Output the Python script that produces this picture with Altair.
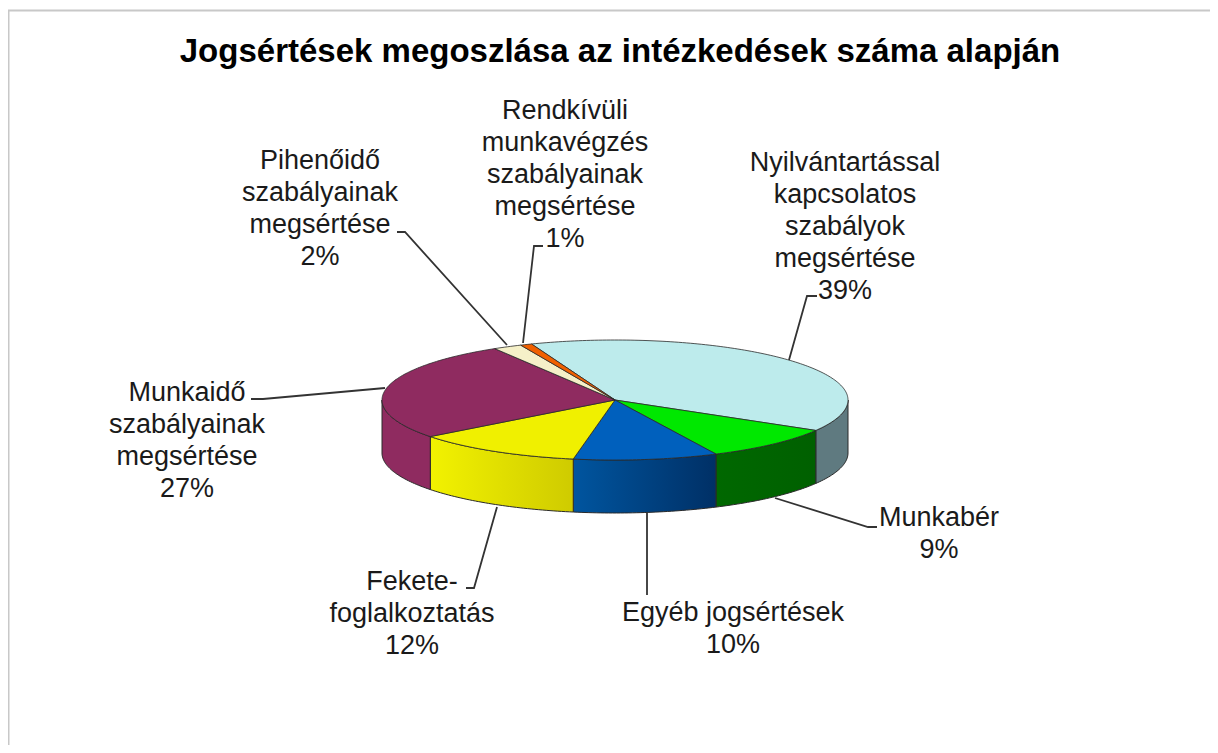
import math
import altair as alt
import pandas as pd

TITLE = "Jogsértések megoszlása az intézkedések száma alapján"
names = ["Nyilvántartással\nkapcsolatos\nszabályok\nmegsértése", "Munkabér", "Egyéb jogsértések",
         "Fekete-\nfoglalkoztatás", "Munkaidő\nszabályainak\nmegsértése", "Pihenőidő\nszabályainak\nmegsértése",
         "Rendkívüli\nmunkavégzés\nszabályainak\nmegsértése"]
shares = [39.3, 9.4, 10.0, 11.7, 26.8, 2.0, 0.8]
top_colors = ["#bdebec", "#00e800", "#0060bd", "#f0f000", "#8f2b60", "#f5f0c8", "#f06000"]
side_colors = [("#5f7a80", "#5f7a80"), ("#006800", "#006000"), ("#00559f", "#003066"),
               ("#f2f200", "#cfcb00"), ("#8f2b60", "#8f2b60"), None, None]

# layout of the drawing, in page pixels (the 8px page margin is taken off below)
CX, CY, RX, RY, DEPTH, START = 615, 400, 233, 60, 53, -21
W, H = 1202, 737
FONT = "Liberation Sans"
SIZE = 27
label_centres = [(845, 162), (939, 517), (733, 612), (412, 581), (187, 392), (320, 160), (565, 110)]
leaders = [[(817, 296), (807, 296), (789, 360)],
           [(877, 527), (868, 527), (775, 498)],
           [(647, 513), (647, 595)],
           [(497, 507), (474, 588), (466, 588)],
           [(385, 388), (263, 399), (251, 399)],
           [(507, 345), (405, 232), (397, 232)],
           [(523, 343), (534, 246), (543, 246)]]

xs = alt.Scale(domain=[0, W], range=[0, W])
ys = alt.Scale(domain=[0, H], range=[0, H])
X = alt.X("x:Q", scale=xs, axis=None)
Y = alt.Y("y:Q", scale=ys, axis=None)


def ell(deg, dy=0):
    a = math.radians(deg)
    return CX + RX * math.sin(a) - 8, CY - RY * math.cos(a) + dy - 8


def arc(a0, a1, dy=0):
    n = max(2, int(abs(a1 - a0)) + 2)
    return [ell(a0 + (a1 - a0) * k / (n - 1), dy) for k in range(n)]


def poly(points, **mark):
    df = pd.DataFrame(points, columns=["x", "y"])
    df["i"] = range(len(df))
    return alt.Chart(df).mark_line(**mark).encode(x=X, y=Y, order="i:Q")


layers = []
# frame
layers.append(poly([(0.5, H), (0.5, 2.5), (W, 2.5)], stroke="#c8c8c8", strokeWidth=2))

angles = [START]
for s in shares:
    angles.append(angles[-1] + s * 3.6)

# side wall
for k, sc in enumerate(side_colors):
    if sc is None:
        continue
    a0, a1 = max(angles[k], 90), min(angles[k + 1], 270)
    if a1 <= a0:
        continue
    pts = arc(a0, a1) + arc(a1, a0, DEPTH)
    pts.append(pts[0])
    fill = alt.Gradient(gradient="linear", x1=0, x2=1, y1=0, y2=0,
                        stops=[alt.GradientStop(color=sc[0], offset=0), alt.GradientStop(color=sc[1], offset=1)])
    layers.append(poly(pts, fill=fill, stroke="#2a2a2a", strokeWidth=1))

# top faces
for k, c in enumerate(top_colors):
    pts = [(CX - 8, CY - 8)] + arc(angles[k], angles[k + 1]) + [(CX - 8, CY - 8)]
    layers.append(poly(pts, fill=c, stroke="#2a2a2a", strokeWidth=0.8))

# leaders
for pts in leaders:
    layers.append(poly([(a - 8, b - 8) for a, b in pts], stroke="#333333", strokeWidth=1.8))

# texts
for n, s, (px, py) in zip(names, shares, label_centres):
    df = pd.DataFrame({"x": [px - 8], "y": [py - 8 - 0.43 * SIZE], "t": [f"{n}\n{round(s)}%"]})
    layers.append(alt.Chart(df).mark_text(font=FONT, fontSize=SIZE, lineHeight=31.8, align="center", baseline="top",
                                          lineBreak="\n", color="#1a1a1a").encode(x=X, y=Y, text="t:N"))

df = pd.DataFrame({"x": [620 - 8], "y": [52 - 8], "t": [TITLE]})
layers.append(alt.Chart(df).mark_text(font=FONT, fontSize=33, fontWeight="bold", align="center", baseline="middle",
                                      color="#000000").encode(x=X, y=Y, text="t:N"))

chart = alt.layer(*layers).properties(width=W, height=H, padding=0, autosize="none").configure_view(stroke=None)
chart.save("out.html", embed_options={"renderer": "svg", "actions": False})
